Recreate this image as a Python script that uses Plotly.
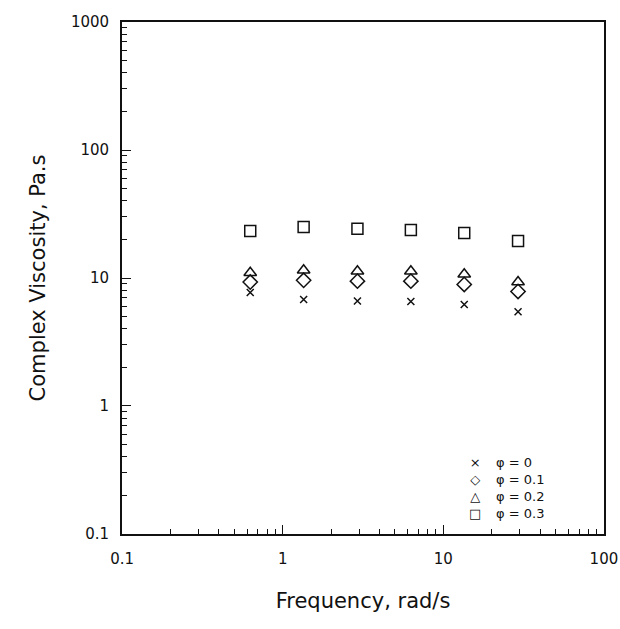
import plotly.graph_objects as go

# Oscillatory shear frequencies (rad/s)
frequency = [0.628, 1.35, 2.92, 6.28, 13.5, 29.2]

# Complex viscosity (Pa.s) for each volume fraction
eta_phi_0 = [7.7, 6.8, 6.6, 6.55, 6.2, 5.45]
eta_phi_01 = [9.3, 9.6, 9.45, 9.45, 8.9, 7.85]
eta_phi_02 = [11.0, 11.5, 11.3, 11.3, 10.7, 9.3]
eta_phi_03 = [23.3, 25.0, 24.3, 23.7, 22.5, 19.5]

series_labels = ["\u03c6 = 0", "\u03c6 = 0.1", "\u03c6 = 0.2", "\u03c6 = 0.3"]
legend_glyphs = ["\u00d7", "\u25c7", "\u25b3", "\u25a1"]
x_ticks = [0.1, 1, 10, 100]
x_tick_text = ["0.1", "1", "10", "100"]
y_ticks = [0.1, 1, 10, 100, 1000]
y_tick_text = ["0.1", "1", "10", "100", "1000"]

FONT = "DejaVu Sans"
INK = "#111111"

symbols = ["x-thin-open", "diamond-open", "triangle-up-open", "square-open"]
sizes = [7, 11, 11, 11]
all_series = [eta_phi_0, eta_phi_01, eta_phi_02, eta_phi_03]

fig = go.Figure()
for vals, label, sym, sz in zip(all_series, series_labels, symbols, sizes):
    fig.add_trace(go.Scatter(
        x=frequency, y=vals, mode="markers", name=label,
        marker=dict(symbol=sym, size=sz, color=INK,
                    line=dict(color=INK, width=1.5)),
        showlegend=False,
    ))

axis_common = dict(
    type="log", showgrid=False, zeroline=False, automargin=False,
    showline=True, linecolor=INK, linewidth=1.8, mirror=True,
    ticks="inside", ticklen=9, tickwidth=1.2, tickcolor=INK,
    tickfont=dict(family=FONT, size=15, color=INK),
    ticklabeloverflow="allow",
    minor=dict(ticks="inside", ticklen=5, tickwidth=1, tickcolor=INK,
               dtick="D1", showgrid=False),
)

fig.update_xaxes(
    range=[-1.0005, 2.0005], tickvals=x_ticks, ticktext=x_tick_text,
    ticklabelstandoff=10,
    title=dict(text="Frequency, rad/s", standoff=26,
               font=dict(family=FONT, size=21, color=INK)),
    **axis_common,
)
fig.update_yaxes(
    range=[-1.0005, 3.0005], tickvals=y_ticks, ticktext=y_tick_text,
    ticklabelstandoff=8,
    title=dict(text="Complex Viscosity, Pa.s", standoff=20,
               font=dict(family=FONT, size=21, color=INK)),
    **axis_common,
)

# Key in the lower-right corner: one column of symbols, one of labels
key_font = dict(family=FONT, size=13, color=INK)
fig.add_annotation(
    x=0.732, y=0.089, xref="paper", yref="paper",
    text="<br>".join(legend_glyphs), align="center",
    showarrow=False, xanchor="center", yanchor="middle", font=key_font,
)
fig.add_annotation(
    x=0.771, y=0.089, xref="paper", yref="paper",
    text="<br>".join(series_labels), align="left",
    showarrow=False, xanchor="left", yanchor="middle", font=key_font,
)

fig.update_layout(
    width=620, height=629,
    margin=dict(l=122, r=16, t=22, b=95),
    paper_bgcolor="white", plot_bgcolor="white",
    showlegend=False,
)

fig.write_html("out.html")
